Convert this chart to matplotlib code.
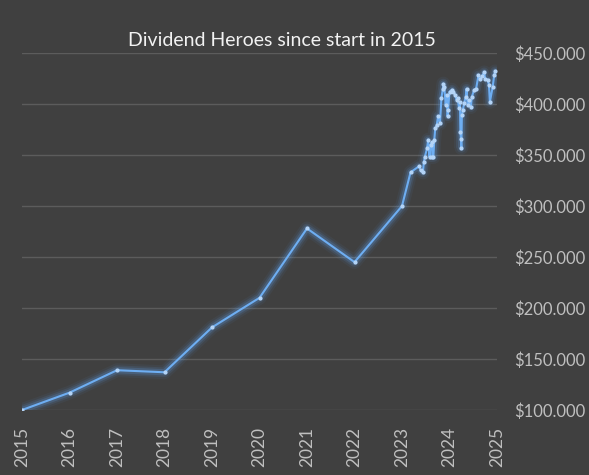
import matplotlib
matplotlib.use("Agg")
import matplotlib.pyplot as plt
from matplotlib.ticker import FuncFormatter, MultipleLocator

# Decimal year and portfolio value (thousands of $)
years = [2015.00, 2016.00, 2017.00, 2018.00, 2019.00, 2020.00, 2021.00, 2022.00, 2023.00,
         2023.18, 2023.36, 2023.39, 2023.44, 2023.46, 2023.48, 2023.53, 2023.55, 2023.58,
         2023.60, 2023.63, 2023.64, 2023.66, 2023.68, 2023.70, 2023.73, 2023.76, 2023.80,
         2023.83, 2023.86, 2023.87, 2023.89, 2023.92, 2023.94, 2023.96, 2023.97, 2024.00,
         2024.05, 2024.08, 2024.12, 2024.15, 2024.17, 2024.20, 2024.22, 2024.23, 2024.24,
         2024.25, 2024.26, 2024.28, 2024.31, 2024.34, 2024.36, 2024.38, 2024.42, 2024.45,
         2024.47, 2024.52, 2024.56, 2024.61, 2024.64, 2024.68, 2024.73, 2024.75, 2024.80,
         2024.83, 2024.85, 2024.91, 2024.94, 2024.96]
values = [100, 117, 139, 137, 181, 210, 278, 245, 300,
          333, 339, 335, 333, 343, 348, 357, 365, 348,
          360, 363, 348, 348, 365, 376, 379, 388, 381,
          406, 415, 420, 417, 399, 409, 388, 394, 412,
          414, 412, 409, 404, 406, 396, 402, 373, 366,
          357, 389, 394, 401, 407, 415, 399, 404, 397,
          407, 414, 415, 428, 425, 427, 431, 425, 424,
          419, 402, 417, 428, 432]
title = "Dividend Heroes since start in 2015"
x_ticks = list(range(2015, 2026))

bg = "#404040"
line_c = "#5fa2ee"
font = ["Lato", "DejaVu Sans"]
plt.rcParams["font.family"] = font

fig = plt.figure(figsize=(5.89, 4.75), dpi=100, facecolor=bg)
ax = fig.add_axes([22/589, 1-410/475, (497-22)/589, (410-53)/475])
ax.set_facecolor(bg)

# glow
for lw, a in [(10, 0.06), (7, 0.11), (4.5, 0.2)]:
    ax.plot(years, values, color=line_c, lw=lw, alpha=a, solid_capstyle="round",
            solid_joinstyle="round", zorder=2)
ax.plot(years, values, color="#6eaef2", lw=1.5, zorder=3)
ax.plot(years, values, ls="none", marker="o", ms=2.0, color="#b4d4f7", zorder=4)

ax.set_xlim(2015, 2025)
ax.set_ylim(100, 450)
ax.yaxis.set_major_locator(MultipleLocator(50))
ax.set_xticks(x_ticks)
ax.set_xticklabels([str(y) for y in x_ticks], rotation=90)
ax.yaxis.tick_right()
ax.yaxis.set_major_formatter(FuncFormatter(lambda v, p: f"${int(v)}.000"))
ax.tick_params(axis="both", length=0, colors="#bfbfbf")
ax.tick_params(axis="y", pad=12, labelsize=12)
ax.tick_params(axis="x", pad=12, labelsize=12.5)
ax.grid(axis="y", color="#5c5c5c", lw=1)
ax.set_axisbelow(True)
ax.yaxis.get_gridlines()[0].set_visible(False)
for s in ax.spines.values():
    s.set_visible(False)

fig.text(282/589, 1-41/475, title, ha="center", va="center", color="#f2f2f2", fontsize=14)

fig.savefig("out.png", dpi=100, facecolor=bg)
